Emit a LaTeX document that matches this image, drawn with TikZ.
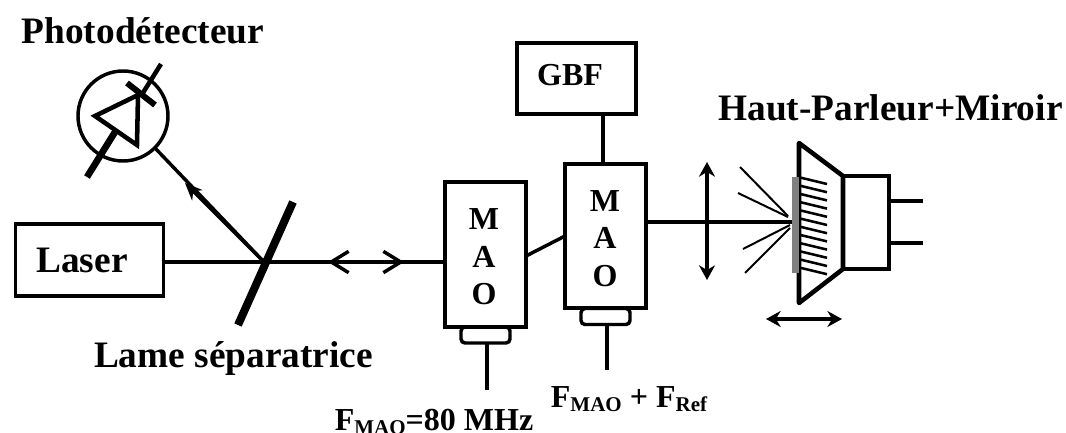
\documentclass[tikz,border=0pt]{standalone}
\usepackage{fontspec}
\setmainfont{Liberation Serif}
\usetikzlibrary{arrows.meta}

\newcommand{\lowtxt}[1]{\raisebox{-3pt}{\fontsize{15.75pt}{16pt}\selectfont #1}}
\tikzset{
  bigtxt/.style={font=\bfseries\fontsize{28pt}{30pt}\selectfont,anchor=base,inner sep=0pt},
  midtxt/.style={font=\bfseries\fontsize{24pt}{26pt}\selectfont,anchor=base,inner sep=0pt},
  boxnode/.style={draw,line width=2.6pt,inner sep=0pt,outer sep=0pt},
  plugnode/.style={boxnode,rounded corners=3pt,minimum width=36.75pt,minimum height=12pt},
  beam/.style={line width=2.6pt},
  thinray/.style={line width=1.5pt},
  plain arrow/.style={line width=2.6pt,{Stealth[length=11pt,width=12pt]}-{Stealth[length=11pt,width=12pt]}}
}

\begin{document}
\begin{tikzpicture}[x=0.75pt,y=-0.75pt]
\useasboundingbox (0,0) rectangle (1066,432);
% boxes
\node[plugnode] (plug1) at (485.5,335) {};
\node[plugnode] (plug2) at (605.5,316.5) {};
\node[boxnode,minimum width=111pt,minimum height=54pt] (laser) at (89.5,260) {};
\node[boxnode,minimum width=60.75pt,minimum height=108.75pt] (mao1) at (485.5,254.5) {};
\node[boxnode,minimum width=60.75pt,minimum height=108pt] (mao2) at (605.5,236) {};
\node[boxnode,minimum width=89.25pt,minimum height=53.25pt] (gbf) at (576.5,78.5) {};
% laser side
\coordinate (sep) at (264,262);
\coordinate (back) at (328,262);
\coordinate (forth) at (404,262);
\draw[beam] (laser.east |- sep) -- (sep) -- (mao1.west |- sep);
\draw[line width=6pt] (293,202) -- (238,325);
\draw[line width=3.6pt,{Straight Barb[length=13pt,width=16pt,line width=2.6pt]}-{Straight Barb[length=13pt,width=16pt,line width=2.6pt]}] (back) -- (forth);
% photodetector
\node[draw,circle,line width=2.6pt,minimum size=67.5pt,inner sep=0pt,outer sep=0pt] (det) at (123,116) {};
\draw[beam] (sep) -- (det.-45);
\draw[-{Stealth[length=13pt,width=11pt]},beam] (sep) -- (185,183);
\draw[line width=3.4pt] (95,116) -- (138,95) -- (137,145) -- cycle;
\draw[line width=4.5pt] (127,83) -- (155,105);
\draw[line width=3.4pt] (141,96) -- (161,64);
\draw[line width=5pt] (115,132) -- (87,177);
% link and leads
\draw[beam] (mao1.east |- 0,256) -- (mao2.west |- 0,236);
\draw[beam] (gbf.south -| 603,0) -- (mao2.north -| 603,0);
\coordinate (lead1) at (487,390);
\coordinate (lead2) at (607,370);
\draw[beam] (plug1.south -| lead1) -- (lead1);
\draw[beam] (plug2.south -| lead2) -- (lead2);
% speaker
\coordinate (hit) at (799,222);
\draw[beam] (mao2.east |- hit) -- (hit);
\draw[plain arrow] (707,162) -- (707,280);
\foreach \xa/\ya/\xb/\yb in {740/167/788/216,738/193/788/217,743/249/790/225,745/273/790/228}
  \draw[thinray] (\xa,\ya) -- (\xb,\yb);
\draw[line width=3.4pt,line join=round] (799,143) -- (843,176) -- (843,269) -- (799,303) -- cycle;
\node[boxnode,line width=3.4pt,minimum width=34.5pt,minimum height=69.75pt] (coil) at (866,222.5) {};
\foreach \i in {0,...,11}
  \draw[line width=1.9pt] (800,{177.5+8.2*\i}) -- (827,{184+8.2*\i});
\fill[black!50] (791.5,177) rectangle (799,273);
\coordinate (pin1) at (923,201);
\coordinate (pin2) at (923,243);
\draw[beam] (coil.east |- pin1) -- (pin1);
\draw[beam] (coil.east |- pin2) -- (pin2);
\draw[plain arrow] (766,319) -- (842,319);
% labels
\node[bigtxt] (lbl1) at (143,43) {Photodétecteur};
\node[bigtxt] (lbl2) at (82,272) {Laser};
\node[bigtxt] (lbl3) at (233.5,367) {Lame séparatrice};
\node[bigtxt] (lbl4) at (890.5,120) {Haut-Parleur+Miroir};
\node[midtxt] (lbl5) at (570,85) {GBF};
\node[midtxt] (lbl6) at (434,430) {F\lowtxt{MAO}=80 MHz};
\node[midtxt] (lbl7) at (629,407) {F\lowtxt{MAO} + F\lowtxt{Ref}};
\foreach \i/\t in {0/M,1/A,2/O}{
  \node[midtxt] (a\t) at (484,{229.5+37.5*\i}) {\t};
  \node[midtxt] (b\t) at (605,{211+37.5*\i}) {\t};
}
\end{tikzpicture}
\end{document}
